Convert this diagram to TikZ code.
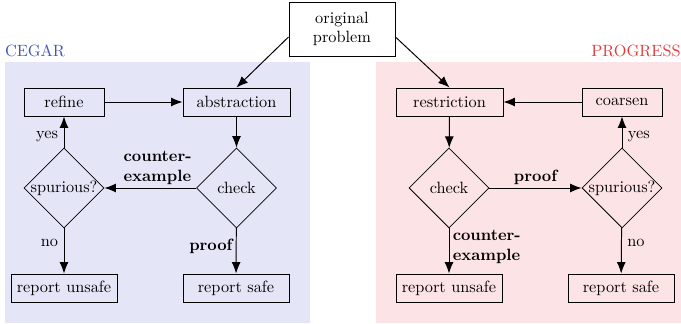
\documentclass[tikz,border=0pt]{standalone}
\usetikzlibrary{shapes.geometric,arrows.meta,calc}
\definecolor{cegarbg}{RGB}{229,229,248}
\definecolor{progbg}{RGB}{252,227,229}
\definecolor{cegarfg}{RGB}{68,85,180}
\definecolor{progfg}{RGB}{228,60,60}
\begin{document}
\begin{tikzpicture}[x=0.613pt,y=-0.613pt,
 box/.style={draw, rectangle, minimum height=28*0.613pt, inner sep=0pt, line width=0.6pt},
 dec/.style={draw, diamond, minimum width=80*0.613pt, minimum height=80*0.613pt, inner sep=0pt, line width=0.5pt},
 arr/.style={-{Latex[length=7pt,width=5.5pt]}, line width=0.6pt},
 lbl/.style={font=\bfseries, align=left, inner sep=2pt}
]
\useasboundingbox (0,0) rectangle (681,324);
\fill[cegarbg] (5,62) rectangle (310,323);
\fill[progbg] (376,62) rectangle (681,323);
\node[text=cegarfg] (cegar) at (35,51) {CEGAR};
\node[text=progfg] (progress) at (636,51) {PROGRESS};

\node[box, minimum width=106*0.613pt, minimum height=54*0.613pt, align=center] (orig) at (342,29) {original\\problem};

% CEGAR side
\node[box, minimum width=80*0.613pt] (refine) at (64,102) {refine};
\node[box, minimum width=107*0.613pt] (abs) at (236.5,102) {abstraction};
\node[dec] (spl) at (64,188) {\makebox[0pt]{spurious?}};
\node[dec] (chl) at (236.5,188) {\makebox[0pt]{check}};
\node[box, minimum width=106*0.613pt] (unsl) at (64,288) {report unsafe};
\node[box, minimum width=106*0.613pt] (safl) at (236,288) {report safe};

% PROGRESS side
\node[box, minimum width=107*0.613pt] (res) at (449.5,102) {restriction};
\node[box, minimum width=80*0.613pt] (coa) at (622,102) {coarsen};
\node[dec] (chr) at (449,188) {\makebox[0pt]{check}};
\node[dec] (spr) at (622,188) {\makebox[0pt]{spurious?}};
\node[box, minimum width=106*0.613pt] (unsr) at (449,288) {report unsafe};
\node[box, minimum width=106*0.613pt] (safr) at (621,288) {report safe};

% connectors
\draw[arr] ($(orig.west)+(0,8)$) -- (abs.north);
\draw[arr] ($(orig.east)+(0,8)$) -- (res.north);

\draw[arr] (refine) -- (abs);
\draw[arr] (abs) -- (chl);
\draw[arr] (chl) -- node[lbl, above, pos=0.42] {counter-\\example} (spl);
\draw[arr] (spl) -- node[left, pos=0.34] {yes} (refine);
\draw[arr] (spl) -- node[left, pos=0.33] {no} (unsl);
\draw[arr] (chl) -- node[lbl, left, pos=0.39] {proof} (safl);

\draw[arr] (coa) -- (res);
\draw[arr] (res) -- (chr);
\draw[arr] (chr) -- node[lbl, above, pos=0.5] {proof} (spr);
\draw[arr] (spr) -- node[right, pos=0.34] {yes} (coa);
\draw[arr] (spr) -- node[right, pos=0.33] {no} (safr);
\draw[arr] (chr) -- node[lbl, right, pos=0.41] {counter-\\example} (unsr);
\end{tikzpicture}
\end{document}
